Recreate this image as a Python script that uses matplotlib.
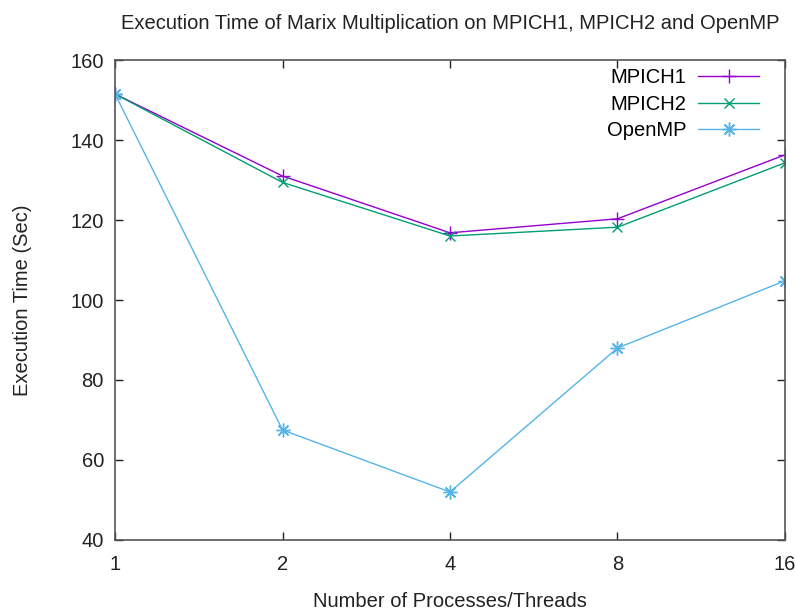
import matplotlib
matplotlib.use("Agg")
import matplotlib.pyplot as plt
import numpy as np

plt.rcParams['font.family'] = ['Liberation Sans', 'DejaVu Sans']

procs = ["1", "2", "4", "8", "16"]
mpich1 = [151.5, 131.0, 116.8, 120.3, 136.3]
mpich2 = [151.5, 129.4, 116.0, 118.2, 134.3]
openmp = [151.5, 67.5, 52.0, 88.0, 104.8]

fig = plt.figure(figsize=(7.95, 6.13), dpi=100)
ax = fig.add_axes([0.1447, 0.1191, 0.8427, 0.7830])

x = np.arange(len(procs))
ax.plot(x, mpich1, color="#9400D3", marker="+", markersize=10, lw=1.0, label="MPICH1")
ax.plot(x, mpich2, color="#009E73", marker="x", markersize=7, lw=1.0, label="MPICH2")
ax.plot(x, openmp, color="#56B4E9", marker=(8, 2, 0), markersize=10, lw=1.0, label="OpenMP")

ax.set_xlim(0, len(procs) - 1)
ax.set_ylim(40, 160)
ax.set_xticks(x)
ax.set_xticklabels(procs)
ax.set_yticks(np.arange(40, 161, 20))
ax.tick_params(direction="in", top=True, right=True, length=6, width=1,
               labelsize=14.5, colors="#222222")
ax.tick_params(axis="x", pad=11)
ax.tick_params(axis="y", pad=8)
for s in ax.spines.values():
    s.set_color("#555555")
    s.set_linewidth(1.2)

ax.set_title("Execution Time of Marix Multiplication on MPICH1, MPICH2 and OpenMP",
             fontsize=14.5, pad=22, color="#222222")
ax.set_xlabel("Number of Processes/Threads", fontsize=14.5, labelpad=13, color="#222222")
ax.set_ylabel("Execution Time (Sec)", fontsize=14.5, labelpad=28, color="#222222")

ax.legend(loc="upper right", bbox_to_anchor=(0.967, 0.991), frameon=False,
          markerfirst=False, fontsize=14.5, handlelength=3.0, labelspacing=0.36,
          borderaxespad=0, borderpad=0.2, handletextpad=0.6)

fig.savefig("out.png", dpi=100)
